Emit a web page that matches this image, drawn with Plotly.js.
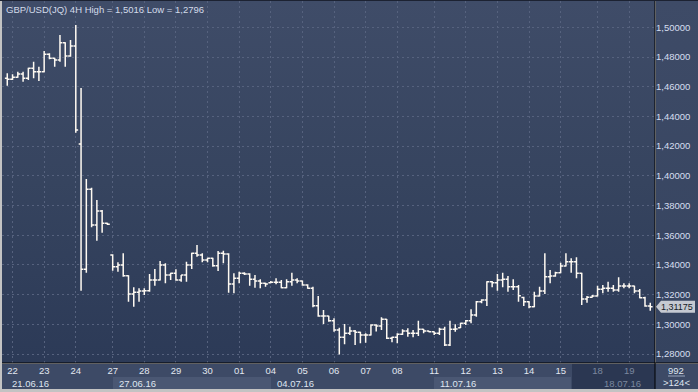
<!DOCTYPE html>
<html>
<head>
<meta charset="utf-8">
<script src="https://cdn.plot.ly/plotly-3.0.1.min.js"></script>
<style>
  html, body { margin:0; padding:0; }
  body { width:698px; height:392px; background:#c3c3c3; position:relative; overflow:hidden; }
  .bg { position:absolute; }
  #topline { left:0; top:0; width:698px; height:1px; background:#1c2232; }
  #plotbg { left:2px; top:1px; width:653px; height:362px; background:linear-gradient(to bottom,#3f4c68 0%,#36445f 50%,#2c3a57 100%); }
  #rightbg { left:656px; top:1px; width:42px; height:362px; background:linear-gradient(to bottom,#3e4b67 0%,#35435f 100%); }
  #bottombg { left:2px; top:364px; width:696px; height:25px; background:#3d4a66; }
  .wk { position:absolute; top:377px; height:12px; background:#4a5773; }
  #dark { left:572px; top:364px; width:83px; height:25px; background:#2b3752; }
  #chart { position:absolute; left:0; top:0; width:698px; height:392px; }
</style>
</head>
<body>
<div class="bg" id="topline"></div>
<div class="bg" id="plotbg"></div>
<div class="bg" id="rightbg"></div>
<div class="bg" id="bottombg"></div>
<div class="wk" style="left:113px;width:158px;"></div>
<div class="wk" style="left:434px;width:137px;"></div>
<div class="bg" id="dark"></div>
<div id="chart"></div>
<script>
// 4H bars, GBP/USD, 21.06.16 20:00 -> 19.07.16
const openP = [1.4657,1.4650,1.4663,1.4686,1.4657,1.4724,1.4701,1.4701,1.4818,1.4791,
1.4780,1.4896,1.4807,1.4874,1.4214,1.3370,1.3909,1.3669,1.3763,1.3680,
1.3467,1.3388,1.3399,1.3327,1.3204,1.3215,1.3224,1.3226,1.3298,1.3298,
1.3399,1.3332,1.3343,1.3298,1.3332,1.3399,1.3478,1.3466,1.3433,1.3444,
1.3395,1.3478,1.3473,1.3271,1.3310,1.3343,1.3339,1.3303,1.3292,1.3276,
1.3280,1.3283,1.3283,1.3246,1.3287,1.3298,1.3292,1.3265,1.3242,1.3125,
1.3056,1.3056,1.3024,1.2962,1.2912,1.2939,1.2955,1.2946,1.2928,1.2928,
1.2995,1.2989,1.3034,1.2906,1.2912,1.2933,1.2955,1.2939,1.2939,1.2966,
1.2955,1.2950,1.2939,1.2966,1.2861,1.2966,1.2977,1.3007,1.3024,1.3063,
1.3152,1.3164,1.3287,1.3280,1.3298,1.3303,1.3253,1.3253,1.3180,1.3152,
1.3119,1.3191,1.3224,1.3321,1.3325,1.3347,1.3393,1.3422,1.3422,1.3343,
1.3170,1.3182,1.3191,1.3236,1.3242,1.3242,1.3231,1.3258,1.3258,1.3258,
1.3224,1.3179,1.3123];
const highP = [1.4690,1.4684,1.4701,1.4701,1.4728,1.4768,1.4735,1.4840,1.4825,1.4795,
1.4948,1.4900,1.4914,1.5016,1.4591,1.3978,1.3920,1.3837,1.3770,1.3684,
1.3471,1.3418,1.3478,1.3330,1.3249,1.3242,1.3242,1.3339,1.3372,1.3426,
1.3411,1.3347,1.3370,1.3332,1.3422,1.3482,1.3534,1.3478,1.3448,1.3448,
1.3494,1.3496,1.3478,1.3343,1.3354,1.3350,1.3343,1.3332,1.3303,1.3280,
1.3292,1.3310,1.3298,1.3303,1.3347,1.3310,1.3295,1.3269,1.3253,1.3191,
1.3096,1.3058,1.3040,1.2977,1.3002,1.2984,1.2962,1.2950,1.2939,1.3000,
1.3000,1.3047,1.3036,1.2917,1.2939,1.2966,1.2973,1.2962,1.3024,1.2968,
1.2957,1.2952,1.2977,1.2984,1.3024,1.3000,1.3011,1.3029,1.3101,1.3157,
1.3168,1.3290,1.3292,1.3339,1.3347,1.3325,1.3303,1.3265,1.3186,1.3155,
1.3220,1.3253,1.3478,1.3366,1.3354,1.3415,1.3478,1.3444,1.3451,1.3347,
1.3191,1.3197,1.3260,1.3265,1.3287,1.3265,1.3316,1.3276,1.3276,1.3260,
1.3238,1.3186,1.3145];
const lowP = [1.4607,1.4645,1.4660,1.4634,1.4645,1.4657,1.4638,1.4698,1.4785,1.4735,
1.4768,1.4735,1.4802,1.4290,1.3226,1.3347,1.3653,1.3563,1.3617,1.3669,
1.3361,1.3354,1.3321,1.3152,1.3119,1.3152,1.3197,1.3220,1.3260,1.3295,
1.3276,1.3298,1.3294,1.3287,1.3287,1.3372,1.3455,1.3418,1.3418,1.3388,
1.3359,1.3411,1.3213,1.3209,1.3276,1.3332,1.3260,1.3246,1.3242,1.3253,
1.3276,1.3269,1.3242,1.3242,1.3260,1.3276,1.3260,1.3240,1.3114,1.3051,
1.3002,1.3017,1.2950,1.2796,1.2865,1.2928,1.2861,1.2872,1.2876,1.2925,
1.2951,1.2962,1.2901,1.2879,1.2872,1.2928,1.2917,1.2912,1.2921,1.2939,
1.2946,1.2928,1.2928,1.2854,1.2854,1.2950,1.2975,1.2995,1.3007,1.3051,
1.3141,1.3123,1.3249,1.3226,1.3249,1.3220,1.3231,1.3152,1.3123,1.3108,
1.3115,1.3188,1.3204,1.3276,1.3321,1.3343,1.3390,1.3347,1.3310,1.3130,
1.3145,1.3180,1.3188,1.3209,1.3220,1.3220,1.3220,1.3242,1.3242,1.3209,
1.3175,1.3119,1.3092];
const closeP = [1.4650,1.4663,1.4686,1.4657,1.4724,1.4701,1.4701,1.4818,1.4791,1.4780,
1.4896,1.4807,1.4874,1.4308,1.3370,1.3909,1.3669,1.3763,1.3680,1.3673,
1.3388,1.3399,1.3327,1.3204,1.3215,1.3224,1.3226,1.3298,1.3298,1.3399,
1.3332,1.3343,1.3298,1.3332,1.3399,1.3478,1.3466,1.3433,1.3444,1.3395,
1.3478,1.3473,1.3271,1.3310,1.3343,1.3339,1.3303,1.3292,1.3276,1.3271,
1.3283,1.3283,1.3246,1.3287,1.3298,1.3292,1.3265,1.3242,1.3125,1.3056,
1.3056,1.3024,1.2962,1.2912,1.2939,1.2955,1.2946,1.2928,1.2928,1.2995,
1.2989,1.3034,1.2906,1.2912,1.2933,1.2955,1.2939,1.2939,1.2966,1.2955,
1.2950,1.2939,1.2966,1.2861,1.2966,1.2968,1.3007,1.3024,1.3063,1.3152,
1.3164,1.3287,1.3280,1.3298,1.3303,1.3253,1.3253,1.3193,1.3152,1.3119,
1.3191,1.3224,1.3321,1.3325,1.3347,1.3393,1.3422,1.3422,1.3343,1.3170,
1.3182,1.3191,1.3236,1.3242,1.3242,1.3231,1.3258,1.3258,1.3258,1.3224,
1.3179,1.3123,1.31175];

// bar index of each day start and its label
const dayTickIdx = [1,7,13,20,26,32,38,44,50,56,62,68,74,81,87,93,99,105,112,118];
const dayLabels = ['22','23','24','27','28','29','30','01','04','05','06','07','08','11','12','13','14','15','18','19'];
const dimmedDays = ['18','19'];
// week labels (bar index of week start)
const weekIdx = [0,20,50,81,112];
const weekLabels = ['21.06.16','27.06.16','04.07.16','11.07.16','18.07.16'];
const dimmedWeeks = ['18.07.16'];

const titleText = 'GBP/USD(JQ) 4H High = 1,5016 Low = 1,2796';
const lastPrice = 1.31175;
const barCountText = '992';
const visibleText = '>124<';

const barIdx = openP.map((_, i) => i);
const FONT = 'Liberation Sans, Arial, sans-serif';
const FS = 9.5;
const barColor = '#fffaf2';

const trace = {
  type: 'ohlc',
  x: barIdx, open: openP, high: highP, low: lowP, close: closeP,
  increasing: {line: {color: barColor, width: 1.5}},
  decreasing: {line: {color: barColor, width: 1.5}},
  tickwidth: 0.45,
  hoverinfo: 'skip'
};

const W = 653, H = 362; // plot area in px
const px = v => v / W;   // px -> paper x
const py = v => v / H;   // px -> paper y

const annotations = [
  {xref:'paper', yref:'paper', x:0, y:1, xanchor:'left', yanchor:'top', xshift:2, yshift:-1,
   text:titleText, showarrow:false, font:{family:FONT, size:FS, color:'#d3dbea'}},
  {xref:'paper', yref:'y', x:1 + px(22), y:lastPrice, xanchor:'center', yanchor:'middle',
   text:lastPrice.toFixed(5).replace('.', ','), showarrow:false, borderpad:0,
   font:{family:FONT, size:9, color:'#141a26'}},
  {xref:'paper', yref:'paper', x:1 + px(21), y:0, xanchor:'center', yanchor:'middle', yshift:-7,
   text:barCountText, showarrow:false, font:{family:FONT, size:FS, color:'#dfe5f0'}},
  {xref:'paper', yref:'paper', x:1 + px(21), y:0, xanchor:'center', yanchor:'middle', yshift:-19,
   text:visibleText, showarrow:false, font:{family:FONT, size:FS, color:'#dfe5f0'}}
];
weekIdx.forEach((w, i) => {
  annotations.push({xref:'x', yref:'paper', x:w, y:0, xanchor:'left', yanchor:'middle',
    xshift: i === 0 ? 3 : 4, yshift:-20, text:weekLabels[i], showarrow:false,
    font:{family:FONT, size:FS, color: dimmedWeeks.includes(weekLabels[i]) ? '#7b879f' : '#dfe5f0'}});
});

const c = lastPrice, hh = 6 / 1485;
const shapes = [
  // price marker
  {type:'path', xref:'paper', yref:'y',
   path:`M ${1+px(1)},${c} L ${1+px(6)},${c+hh} L ${1+px(40)},${c+hh} L ${1+px(40)},${c-hh} L ${1+px(6)},${c-hh} Z`,
   fillcolor:'#c5c9d1', line:{width:0}},
  // frame lines extending into side panels
  {type:'line', xref:'paper', yref:'paper', x0:1, x1:1, y0:-py(26), y1:1, line:{color:'#000', width:1}},
  {type:'line', xref:'paper', yref:'paper', x0:0, x1:1 + px(43), y0:0, y1:0, line:{color:'#000', width:1}},
  // underline under bar count
  {type:'line', xref:'paper', yref:'paper', x0:1 + px(13), x1:1 + px(30), y0:-py(13), y1:-py(13), line:{color:'#9aa6bc', width:1}}
];

const layout = {
  width:698, height:392,
  margin:{l:2, r:43, t:1, b:29, pad:0},
  paper_bgcolor:'rgba(0,0,0,0)', plot_bgcolor:'rgba(0,0,0,0)',
  separators:',.',
  showlegend:false, hovermode:false, dragmode:false,
  xaxis:{
    type:'linear', range:[-1.0, 122.9], fixedrange:true,
    rangeslider:{visible:false},
    tickmode:'array', tickvals:dayTickIdx,
    ticktext: dayLabels.map(d => dimmedDays.includes(d) ? `<span style="color:#7b879f">${d}</span>` : d),
    ticks:'', showline:false, zeroline:false,
    showgrid:true, gridcolor:'#56627e', griddash:'2px,3px', gridwidth:1,
    tickfont:{family:FONT, size:FS, color:'#e2e7f0'}
  },
  yaxis:{
    side:'right', range:[1.27394, 1.51771], fixedrange:true,
    dtick:0.02, tick0:1.28, tickformat:'.5f',
    ticks:'', showline:false, zeroline:false,
    showgrid:true, gridcolor:'#56627e', griddash:'2px,3px', gridwidth:1,
    tickfont:{family:FONT, size:FS, color:'#d6def0'}
  },
  annotations, shapes
};

Plotly.newPlot('chart', [trace], layout, {staticPlot:true, displayModeBar:false});
</script>
</body>
</html>
